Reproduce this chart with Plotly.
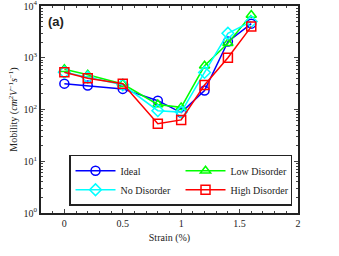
import plotly.graph_objects as go

strain = [0, 0.2, 0.5, 0.8, 1.0, 1.2, 1.4, 1.6]
ideal = [316, 290, 250, 148, 87, 232, 2050, 4560]
no_dis = [525, 420, 300, 95, 89, 520, 2970, 5000]
low_dis = [600, 470, 310, 125, 110, 700, 1900, 6700]
high_dis = [525, 400, 315, 53, 63, 297, 1000, 4000]
names = ["Ideal", "No Disorder", "Low Disorder", "High Disorder"]
colors = ["#0000ff", "#00ffff", "#00ff00", "#ff0000"]
symbols = ["circle-open", "diamond-open", "triangle-up-open", "square-open"]
series = [ideal, no_dis, low_dis, high_dis]
ytickvals = [1, 10, 100, 1000, 10000]
yticktext = ["10<sup>0</sup>", "10<sup>1</sup>", "10<sup>2</sup>", "10<sup>3</sup>", "10<sup>4</sup>"]
xtickvals = [0, 0.5, 1, 1.5, 2]
xticktext = ["0", "0.5", "1", "1.5", "2"]

SERIF = "Times New Roman"
fig = go.Figure()
order = [0, 2, 1, 3]
for i in order:
    fig.add_trace(go.Scatter(
        x=strain, y=series[i], name=names[i], mode="lines+markers",
        line=dict(color=colors[i], width=1.5),
        marker=dict(symbol=symbols[i], size=9, color=colors[i], line=dict(width=1.5, color=colors[i])),
    ))

font = dict(family=SERIF, size=10, color="#222")
fig.update_layout(
    width=339, height=256,
    margin=dict(l=41, r=41, t=6, b=43, autoexpand=False),
    paper_bgcolor="white", plot_bgcolor="white",
    font=font, showlegend=True,
    legend=dict(orientation="h", x=0.109, y=0.035, xanchor="left", yanchor="bottom",
                bordercolor="#222", borderwidth=1.5, bgcolor="white",
                entrywidth=55, entrywidthmode="pixels", itemwidth=40,
                font=dict(family=SERIF, size=10, color="#222"),
                tracegroupgap=0),
    xaxis=dict(range=[-0.2, 2], tickvals=xtickvals, ticktext=xticktext, ticks="inside",
               ticklen=4, tickwidth=1, mirror="allticks", showline=True, linewidth=2, linecolor="#222",
               showgrid=False, zeroline=False, automargin=False, tickfont=font,
               minor=dict(dtick=0.1, tick0=0, ticks="inside", ticklen=2, showgrid=False),
               title=dict(text="Strain (%)", standoff=6, font=font)),
    yaxis=dict(type="log", range=[0, 4], tickvals=ytickvals, ticktext=yticktext, ticks="inside",
               ticklen=4, tickwidth=1, mirror="allticks", showline=True, linewidth=2, linecolor="#222",
               showgrid=False, zeroline=False, automargin=False, tickfont=font,
               ticklabeloverflow="allow",
               minor=dict(dtick="D1", ticks="inside", ticklen=2, showgrid=False),
               title=dict(text="Mobility (<i>cm</i><sup>2</sup><i>V</i><sup>\u22121</sup><i>s</i><sup>\u22121</sup>)",
                          standoff=4, font=font)),
)
fig.add_annotation(text="<b>(a)</b>", xref="paper", yref="paper", x=0.02, y=0.97,
                   xanchor="left", yanchor="top", showarrow=False,
                   font=dict(family="Liberation Sans, Arial, sans-serif", size=13, color="#222"))
fig.write_html("out.html", config={"displayModeBar": False},
               post_script="document.body.style.margin='0';")
